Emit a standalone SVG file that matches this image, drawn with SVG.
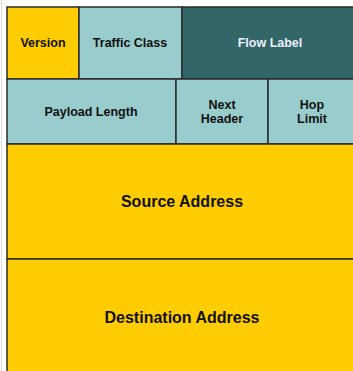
<svg xmlns="http://www.w3.org/2000/svg" width="353" height="371" viewBox="0 0 353 371">
<style>
.c{stroke:#2b2b2b;stroke-width:1.5}
.y{fill:#FFCC00}
.l{fill:#99CCCC}
.d{fill:#336666}
text{font-family:"Liberation Sans",Arial,sans-serif;font-weight:bold;text-anchor:middle;fill:#111}
.s{font-size:12.5px}
.b{font-size:16px}
.w{fill:#eef}
</style>
<rect width="353" height="371" fill="#fff"/>
<line x1="1.5" y1="0" x2="1.5" y2="371" stroke="#ddd" stroke-width="1"/>
<g id="version"><rect class="c y" x="7" y="7" width="72" height="72"/><text class="s" x="43" y="47">Version</text></g>
<g id="traffic-class"><rect class="c l" x="79" y="7" width="103" height="72"/><text class="s" x="130" y="47">Traffic Class</text></g>
<g id="flow-label"><rect class="c d" x="182" y="7" width="176" height="72"/><text class="s w" x="270" y="47" style="fill:#eef">Flow Label</text></g>
<g id="payload-length"><rect class="c l" x="7" y="79" width="169" height="65"/><text class="s" x="91" y="116">Payload Length</text></g>
<g id="next-header"><rect class="c l" x="176" y="79" width="92" height="65"/><text class="s" x="222" y="109">Next</text><text class="s" x="222" y="123">Header</text></g>
<g id="hop-limit"><rect class="c l" x="268" y="79" width="90" height="65"/><text class="s" x="312" y="109">Hop</text><text class="s" x="312" y="123">Limit</text></g>
<g id="source-address"><rect class="c y" x="7" y="144" width="351" height="115"/><text class="b" x="182" y="207">Source Address</text></g>
<g id="destination-address"><rect class="c y" x="7" y="259" width="351" height="120"/><text class="b" x="182" y="323">Destination Address</text></g>
<g id="connectors"></g>
</svg>
